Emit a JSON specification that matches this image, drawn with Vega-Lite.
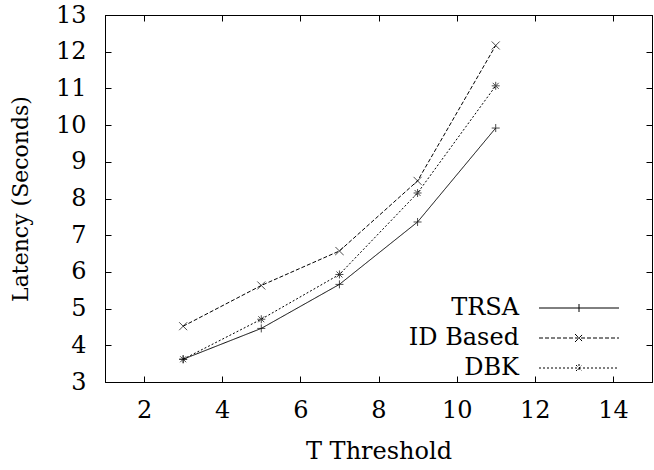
{
  "$schema": "https://vega.github.io/schema/vega-lite/v6.json",
  "width": 547,
  "height": 367,
  "autosize": {"type": "none"},
  "padding": {"left": 105, "top": 15, "right": 2, "bottom": 88},
  "background": "white",
  "config": {
    "font": "DejaVu Serif",
    "view": {"stroke": "black", "strokeWidth": 1},
    "axis": {
      "labelFont": "DejaVu Serif",
      "titleFont": "DejaVu Serif",
      "labelColor": "black",
      "titleColor": "black",
      "labelFontSize": 24,
      "titleFontSize": 24,
      "titleFontWeight": "normal",
      "domainColor": "black",
      "tickColor": "black",
      "grid": false
    },
    "legend": {"labelFont": "DejaVu Serif"}
  },
  "data": {
    "values": [
      {"series": "TRSA", "t": 3, "latency": 3.62},
      {"series": "TRSA", "t": 5, "latency": 4.46},
      {"series": "TRSA", "t": 7, "latency": 5.66},
      {"series": "TRSA", "t": 9, "latency": 7.36},
      {"series": "TRSA", "t": 11, "latency": 9.92},
      {"series": "ID Based", "t": 3, "latency": 4.52},
      {"series": "ID Based", "t": 5, "latency": 5.63},
      {"series": "ID Based", "t": 7, "latency": 6.57},
      {"series": "ID Based", "t": 9, "latency": 8.48},
      {"series": "ID Based", "t": 11, "latency": 12.17},
      {"series": "DBK", "t": 3, "latency": 3.62},
      {"series": "DBK", "t": 5, "latency": 4.71},
      {"series": "DBK", "t": 7, "latency": 5.93},
      {"series": "DBK", "t": 9, "latency": 8.15},
      {"series": "DBK", "t": 11, "latency": 11.07}
    ]
  },
  "layer": [
    {
      "mark": {"type": "line", "color": "black", "strokeWidth": 1},
      "encoding": {
        "x": {"field": "t", "type": "quantitative", "scale": {"domain": [1, 15], "nice": false},
          "axis": {"orient": "bottom", "title": "T Threshold", "values": [2, 4, 6, 8, 10, 12, 14], "tickSize": -6, "labelPadding": 22, "titlePadding": 17}},
        "y": {"field": "latency", "type": "quantitative", "scale": {"domain": [3, 13], "nice": false, "zero": false},
          "axis": {"orient": "left", "title": "Latency (Seconds)", "titleFontSize": 22, "titleX": -85, "titleBaseline": "middle", "values": [3, 4, 5, 6, 7, 8, 9, 10, 11, 12, 13], "tickSize": -6, "labelPadding": 25}},
        "strokeDash": {"field": "series", "type": "nominal",
          "scale": {"domain": ["TRSA", "ID Based", "DBK"], "range": [[1, 0], [4, 2], [2, 2]]}, "legend": null}
      }
    },
    {
      "mark": {"type": "point", "color": "black", "filled": false, "strokeWidth": 1, "size": 64},
      "encoding": {
        "x": {"field": "t", "type": "quantitative", "axis": {"orient": "top", "labels": false, "title": null, "values": [2, 4, 6, 8, 10, 12, 14], "tickSize": -6}},
        "y": {"field": "latency", "type": "quantitative", "axis": {"orient": "right", "labels": false, "title": null, "values": [3, 4, 5, 6, 7, 8, 9, 10, 11, 12, 13], "tickSize": -6}},
        "shape": {"field": "series", "type": "nominal",
          "scale": {"domain": ["TRSA", "ID Based", "DBK"], "range": ["M-1,0H1M0,-1V1", "M-1,-1L1,1M-1,1L1,-1", "M-1,0H1M0,-1V1M-0.75,-0.75L0.75,0.75M-0.75,0.75L0.75,-0.75"]},
          "legend": null}
      }
    },
    {
      "mark": {"type": "point", "color": "black", "filled": false, "strokeWidth": 1, "size": 64, "opacity": 0},
      "encoding": {
        "x": {"field": "t", "type": "quantitative", "axis": null},
        "y": {"field": "latency", "type": "quantitative", "axis": null},
        "shape": {"field": "series", "type": "nominal",
          "scale": {"domain": ["TRSA", "ID Based", "DBK"], "range": ["M-10,0H10M0,-1V1", "M-10,0H10M-1,-1L1,1M-1,1L1,-1", "M-10,0H10M0,-1V1M-0.75,-0.75L0.75,0.75M-0.75,0.75L0.75,-0.75"]},
          "legend": {"title": null, "orient": "none", "legendX": 462, "legendY": 281, "labelAlign": "right", "labelOffset": -72, "labelFontSize": 24, "labelColor": "black", "symbolOpacity": 1, "symbolSize": 64, "symbolStrokeColor": "black", "symbolStrokeWidth": 1, "rowPadding": 6, "padding": 0}},
        "strokeDash": {"field": "series", "type": "nominal",
          "scale": {"domain": ["TRSA", "ID Based", "DBK"], "range": [[1, 0], [4, 2], [2, 2]]},
          "legend": {"title": null, "orient": "none", "legendX": 462, "legendY": 281, "labelAlign": "right", "labelOffset": -72, "labelFontSize": 24, "labelColor": "black", "symbolOpacity": 1, "symbolSize": 64, "symbolStrokeColor": "black", "symbolStrokeWidth": 1, "rowPadding": 6, "padding": 0}}
      }
    }
  ],
  "resolve": {
    "scale": {"shape": "independent", "strokeDash": "independent"},
    "axis": {"x": "independent", "y": "independent"}
  }
}
